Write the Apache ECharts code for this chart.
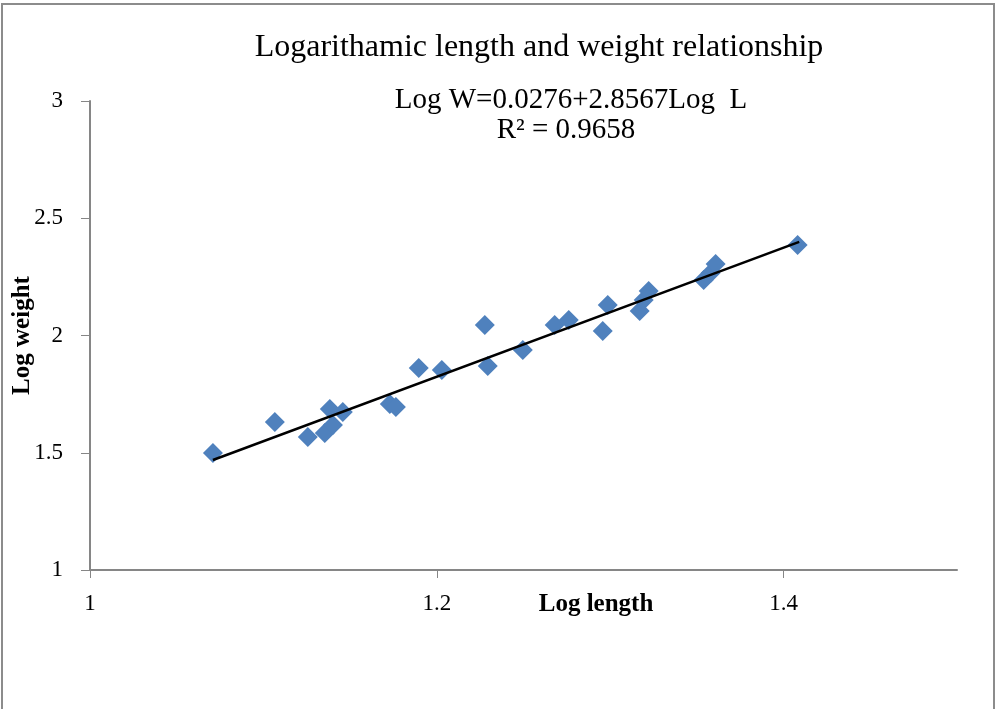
<!DOCTYPE html>
<html>
<head>
<meta charset="utf-8">
<script src="https://cdn.jsdelivr.net/npm/echarts@6/dist/echarts.min.js"></script>
<style>
html,body{margin:0;padding:0;background:#fff;}
#chart{width:995px;height:709px;}
</style>
</head>
<body>
<div id="chart"></div>
<script>
// Data
const logLength = [1.0709, 1.1066, 1.1256, 1.1354, 1.1401, 1.1383, 1.1458, 1.1729, 1.1764, 1.1896,
  1.2029, 1.2277, 1.2294, 1.2496, 1.2680, 1.2761, 1.2957, 1.2986, 1.3170, 1.3193,
  1.3222, 1.3539, 1.3579, 1.3608, 1.4081];
const logWeight = [1.499, 1.631, 1.567, 1.584, 1.618, 1.687, 1.674, 1.708, 1.695, 1.861,
  1.853, 2.045, 1.870, 1.938, 2.045, 2.066, 2.019, 2.130, 2.104, 2.151,
  2.190, 2.237, 2.267, 2.305, 2.386];
const trendX = [1.0709, 1.4090];
const trendY = [1.469, 2.399];
const xTicks = [1, 1.2, 1.4];
const yTicks = [1, 1.5, 2, 2.5, 3];

const points = logLength.map((x, i) => [x, logWeight[i]]);
const trend = trendX.map((x, i) => [x, trendY[i]]);
const serif = '"Liberation Serif", "Times New Roman", serif';
const axisGray = '#868686';

const chart = echarts.init(document.getElementById('chart'), null, {renderer: 'canvas'});
chart.setOption({
  animation: false,
  backgroundColor: '#fff',
  title: {
    text: 'Logarithamic length and weight relationship',
    left: 534, top: 27, textAlign: 'center',
    textStyle: {fontFamily: serif, fontSize: 32, fontWeight: 'normal', color: '#000'}
  },
  grid: {left: 90, right: 38, top: 101, bottom: 139, containLabel: false, outerBoundsMode: 'none'},
  xAxis: {
    type: 'value', min: 1, max: 1.5, interval: 0.2,
    axisLine: {show: true, onZero: false, lineStyle: {color: axisGray, width: 2}},
    axisTick: {show: true, inside: false, length: 8, lineStyle: {color: axisGray, width: 1}},
    axisLabel: {
      margin: 22, showMaxLabel: false, fontFamily: serif, fontSize: 23, color: '#000',
      formatter: v => xTicks.some(t => Math.abs(t - v) < 1e-9) ? String(+v.toFixed(1)) : ''
    },
    splitLine: {show: false}
  },
  yAxis: {
    type: 'value', min: 1, max: 3, interval: 0.5,
    name: 'Log weight', nameLocation: 'middle', nameGap: 55, nameRotate: 90,
    nameMoveOverlap: false,
    nameTextStyle: {fontFamily: serif, fontSize: 25, fontWeight: 'bold', color: '#000'},
    axisLine: {show: true, lineStyle: {color: axisGray, width: 2}},
    axisTick: {show: true, inside: false, length: 9, lineStyle: {color: axisGray, width: 1}},
    axisLabel: {
      margin: 27, fontFamily: serif, fontSize: 23, color: '#000',
      formatter: v => yTicks.some(t => Math.abs(t - v) < 1e-9) ? String(v) : ''
    },
    splitLine: {show: false}
  },
  graphic: [
    {type: 'rect', silent: true, z: -1,
     shape: {x: 2, y: 4, width: 992, height: 800},
     style: {fill: 'none', stroke: '#8c8c8c', lineWidth: 2}},
    {type: 'text', x: 596, y: 605, silent: true,
     style: {text: 'Log length', font: 'bold 25px ' + serif, fill: '#000',
             align: 'center', verticalAlign: 'middle'}},
    {type: 'text', x: 571, y: 100, silent: true,
     style: {text: 'Log W=0.0276+2.8567Log  L', font: '29px ' + serif, fill: '#000',
             align: 'center', verticalAlign: 'middle'}},
    {type: 'text', x: 566, y: 130, silent: true,
     style: {text: 'R² = 0.9658', font: '29px ' + serif, fill: '#000',
             align: 'center', verticalAlign: 'middle'}}
  ],
  series: [
    {
      type: 'scatter', name: 'data', data: points,
      symbol: 'diamond', symbolSize: [20, 20],
      itemStyle: {color: '#4F81BD', opacity: 1}, z: 2
    },
    {
      type: 'line', name: 'trend', data: trend,
      symbol: 'none', lineStyle: {color: '#000', width: 2.5}, z: 3
    }
  ]
});
</script>
</body>
</html>
